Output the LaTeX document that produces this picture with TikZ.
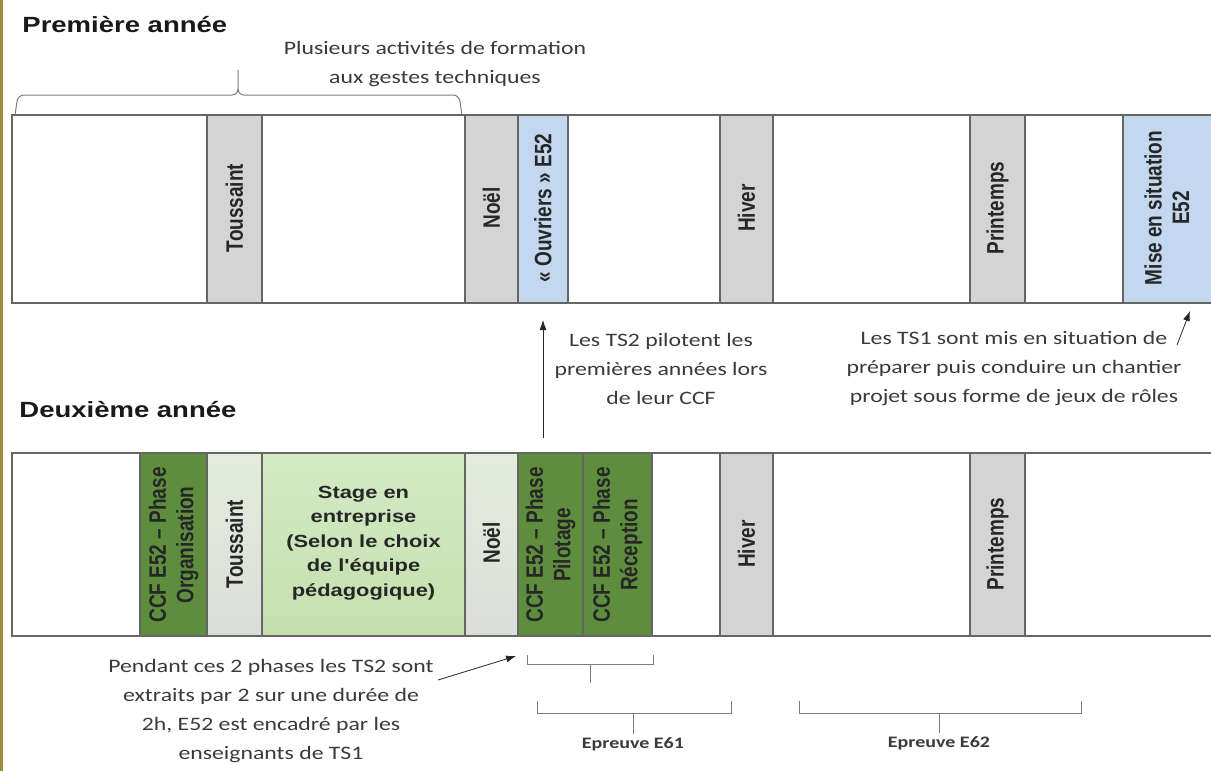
\documentclass[tikz,border=0pt]{standalone}
\usepackage{fontspec}
\setmainfont{Carlito}
\newfontfamily\arial{Liberation Sans}
\usetikzlibrary{arrows.meta}

\definecolor{trait}{HTML}{666666}
\definecolor{vacances}{HTML}{D4D4D4}
\definecolor{vacclair}{HTML}{DCDDDA}
\definecolor{vachaut}{HTML}{E3EDDB}
\definecolor{bleuE}{HTML}{C3D8EE}
\definecolor{vertfonce}{HTML}{5E8E3D}
\definecolor{vertclair}{HTML}{C5E0AE}
\definecolor{verthaut}{HTML}{D3EAC5}
\definecolor{encre}{HTML}{3A3A3A}
\definecolor{bordure}{HTML}{A08C3C}

\tikzset{
  cadre/.style={draw=trait, line width=1.3pt},
  vertical/.style={xscale=1.25, rotate=90, align=center, text=black!85,
    font=\arial\bfseries\fontsize{19}{22}\selectfont},
  note/.style={xscale=1.25, align=center, text=encre,
    font=\fontsize{19}{29}\selectfont},
  titre/.style={xscale=1.25, anchor=west, text=black!90,
    font=\arial\bfseries\fontsize{22}{26}\selectfont},
  epreuve/.style={xscale=1.25, text=encre, font=\bfseries\fontsize{16}{19}\selectfont},
  accolade/.style={draw=trait!85, line width=1pt},
  fleche/.style={thick, draw=black!85, -{Latex[length=10pt, width=7pt]}},
}

\begin{document}
\begin{tikzpicture}[x=1pt, y=-1pt]
  \useasboundingbox (0,0) rectangle (1211,771);
  \fill[bordure] (0,0) rectangle (2.5,771);

  % premiere annee
  \node[titre] (an1) at (18,25) {Première année};
  \node[note] (gestes) at (435,64) {Plusieurs activités de formation\\aux gestes techniques};
  \draw[accolade, rounded corners=6pt] (15,115) -- (18,95) -- (238,95) -- (238,70);
  \draw[accolade, rounded corners=6pt] (238,90) -- (238,95) -- (459,95) -- (462,115);

  \draw[cadre] (12,115) rectangle (1215,303);
  \draw[cadre, fill=vacances] (207,115) rectangle (262,303);
  \draw[cadre, fill=vacances] (465,115) rectangle (518,303);
  \draw[cadre, fill=bleuE] (518,115) rectangle (568,303);
  \draw[cadre, fill=vacances] (720,115) rectangle (773,303);
  \draw[cadre, fill=vacances] (970,115) rectangle (1025,303);
  \draw[cadre, fill=bleuE] (1123,115) rectangle (1215,303);

  \node[vertical] (tous1) at (234.5,208) {Toussaint};
  \node[vertical] (noel1) at (491.5,208) {Noël};
  \node[vertical] (ouvr) at (543,208) {«~Ouvriers~» E52};
  \node[vertical] (hiver1) at (746.5,208) {Hiver};
  \node[vertical] (print1) at (997.5,208) {Printemps};
  \node[vertical] (mise) at (1167,208) {Mise en situation\\E52};

  % notes du milieu
  \node[note] (pilotent) at (661,369) {Les TS2 pilotent les\\premières années lors\\de leur CCF};
  \node[note] (jeux) at (1014,369) {Les TS1 sont mis en situation de\\préparer puis conduire un chantier\\projet sous forme de jeux de rôles};
  \coordinate (p1) at (543,438);
  \coordinate (p2) at (543,320);
  \coordinate (m1) at (1177,345);
  \coordinate (m2) at (1190,311);
  \draw[fleche] (p1) -- (p2);
  \draw[fleche] (m1) -- (m2);

  % deuxieme annee
  \node[titre] (an2) at (15,410) {Deuxième année};
  \draw[cadre] (12,453) rectangle (1215,636);
  \draw[cadre, fill=vertfonce] (140,453) rectangle (207,636);
  \draw[cadre, top color=vachaut, bottom color=vacclair] (207,453) rectangle (262,636);
  \draw[cadre, top color=verthaut, bottom color=vertclair] (262,453) rectangle (465,636);
  \draw[cadre, top color=vachaut, bottom color=vacclair] (465,453) rectangle (518,636);
  \draw[cadre, fill=vertfonce] (518,453) rectangle (583,636);
  \draw[cadre, fill=vertfonce] (583,453) rectangle (652,636);
  \draw[cadre, fill=vacances] (720,453) rectangle (773,636);
  \draw[cadre, fill=vacances] (970,453) rectangle (1025,636);

  \node[vertical] (orga) at (173.5,545) {CCF E52 – Phase\\Organisation};
  \node[vertical] (tous2) at (234.5,544) {Toussaint};
  \node[xscale=1.25, align=center, text=black!85, font=\arial\bfseries\fontsize{17.5}{24.5}\selectfont]
    (stage) at (363.5,543) {Stage en\\entreprise\\(Selon le choix\\de l'équipe\\pédagogique)};
  \node[vertical] (noel2) at (491.5,543) {Noël};
  \node[vertical] (pilo) at (550.5,545) {CCF E52 – Phase\\Pilotage};
  \node[vertical] (recep) at (617.5,545) {CCF E52 – Phase\\Réception};
  \node[vertical] (hiver2) at (746.5,544) {Hiver};
  \node[vertical] (print2) at (997.5,544) {Printemps};

  % epreuves
  \node[note] (pendant) at (271,711) {Pendant ces 2 phases les TS2 sont\\extraits par 2 sur une durée de\\2h, E52 est encadré par les\\enseignants de TS1};
  \coordinate (q1) at (438,680);
  \coordinate (q2) at (516,656);
  \draw[fleche] (q1) -- (q2);

  \draw[accolade] (527,655) -- (527,664) -- (653,664) -- (653,655);
  \draw[accolade] (590,664) -- (590,683);
  \node[epreuve] (e61) at (633,744) {Epreuve E61};
  \node[epreuve] (e62) at (939,743) {Epreuve E62};
  \draw[accolade] (537,701) -- (537,713) -- (731,713) -- (731,701);
  \draw[accolade] (633,713) -- (e61.north);
  \draw[accolade] (799,701) -- (799,713) -- (1081,713) -- (1081,701);
  \draw[accolade] (939,713) -- (e62.north);
\end{tikzpicture}
\end{document}
